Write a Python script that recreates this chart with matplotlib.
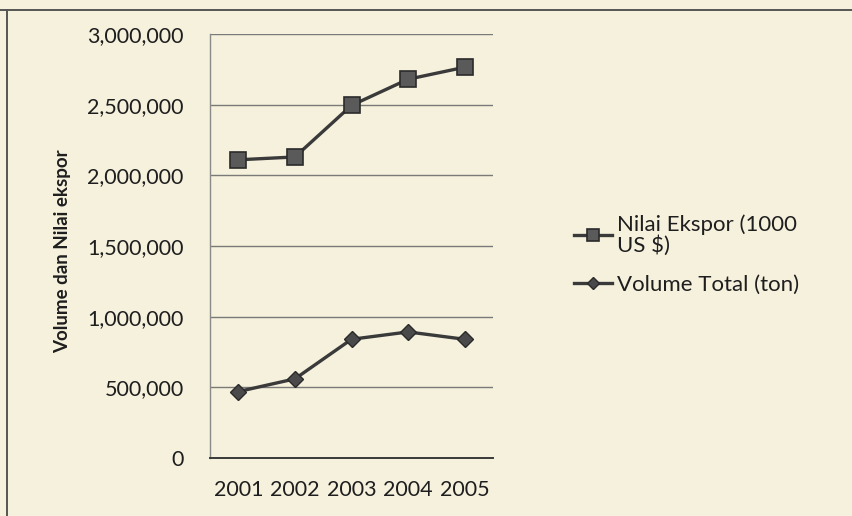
import matplotlib
matplotlib.use("Agg")
import matplotlib.pyplot as plt
from matplotlib.lines import Line2D
from matplotlib.ticker import FuncFormatter

years = ["2001", "2002", "2003", "2004", "2005"]
nilai_ekspor = [2110000, 2130000, 2495000, 2680000, 2765000]
volume_total = [470000, 560000, 840000, 892000, 840000]
yticks = [0, 500000, 1000000, 1500000, 2000000, 2500000, 3000000]

bg = "#f6f1dd"
plt.rcParams['font.family'] = ['Lato', 'DejaVu Sans']

fig = plt.figure(figsize=(8.53, 5.16), dpi=100, facecolor=bg)
ax = fig.add_axes([0.2462, 0.1124, 0.3318, 0.8217], facecolor=bg)

x = list(range(len(years)))
ax.plot(x, nilai_ekspor, color="#3a3a3a", lw=2.4, marker="s", ms=11,
        mfc="#5a5a5a", mec="#2a2a2a", mew=1.2, label="Nilai Ekspor (1000\nUS $)", zorder=3)
ax.plot(x, volume_total, color="#3a3a3a", lw=2.4, marker="D", ms=8,
        mfc="#4a4a4a", mec="#2a2a2a", label="Volume Total (ton)", zorder=3)

ax.set_xlim(-0.5, len(years) - 0.5)
ax.set_ylim(0, 3000000)
ax.set_xticks(x)
ax.set_xticklabels(years)
ax.set_yticks(yticks)
ax.yaxis.set_major_formatter(FuncFormatter(lambda v, p: f"{int(v):,}"))
ax.grid(axis="y", color="#7a7a78", lw=1.0)
ax.tick_params(axis="both", length=0, labelsize=15.5, colors="#1e1e1e")
ax.tick_params(axis="y", pad=19)
ax.tick_params(axis="x", pad=16)
for s in ["top", "right"]:
    ax.spines[s].set_visible(False)
ax.spines["left"].set_color("#8a8a88")
ax.spines["left"].set_linewidth(1.0)
ax.spines["bottom"].set_color("#3a3a3a")
ax.spines["bottom"].set_linewidth(1.4)

fig.text(0.073, 0.513, "Volume dan Nilai ekspor", rotation=90, ha="center", va="center",
         fontsize=13.5, fontweight="bold", color="#1e1e1e")

leg = ax.legend(loc="upper left", bbox_to_anchor=(0.673, 0.585), bbox_transform=fig.transFigure,
                frameon=False, fontsize=16, handlelength=1.7, handletextpad=0.25,
                labelspacing=0.85, labelcolor="#1e1e1e", markerscale=0.75,
                borderaxespad=0, borderpad=0)
for t in leg.get_texts():
    t.set_linespacing(1.05)

# outer chart frame (top and left edges visible)
fig.add_artist(Line2D([0.0, 1.0], [1 - 10/516, 1 - 10/516], transform=fig.transFigure,
                      color="#555555", lw=1.4))
fig.add_artist(Line2D([7/853, 7/853], [0.0, 1 - 10/516], transform=fig.transFigure,
                      color="#555555", lw=1.4))

fig.savefig("out.png", dpi=100, facecolor=bg)
